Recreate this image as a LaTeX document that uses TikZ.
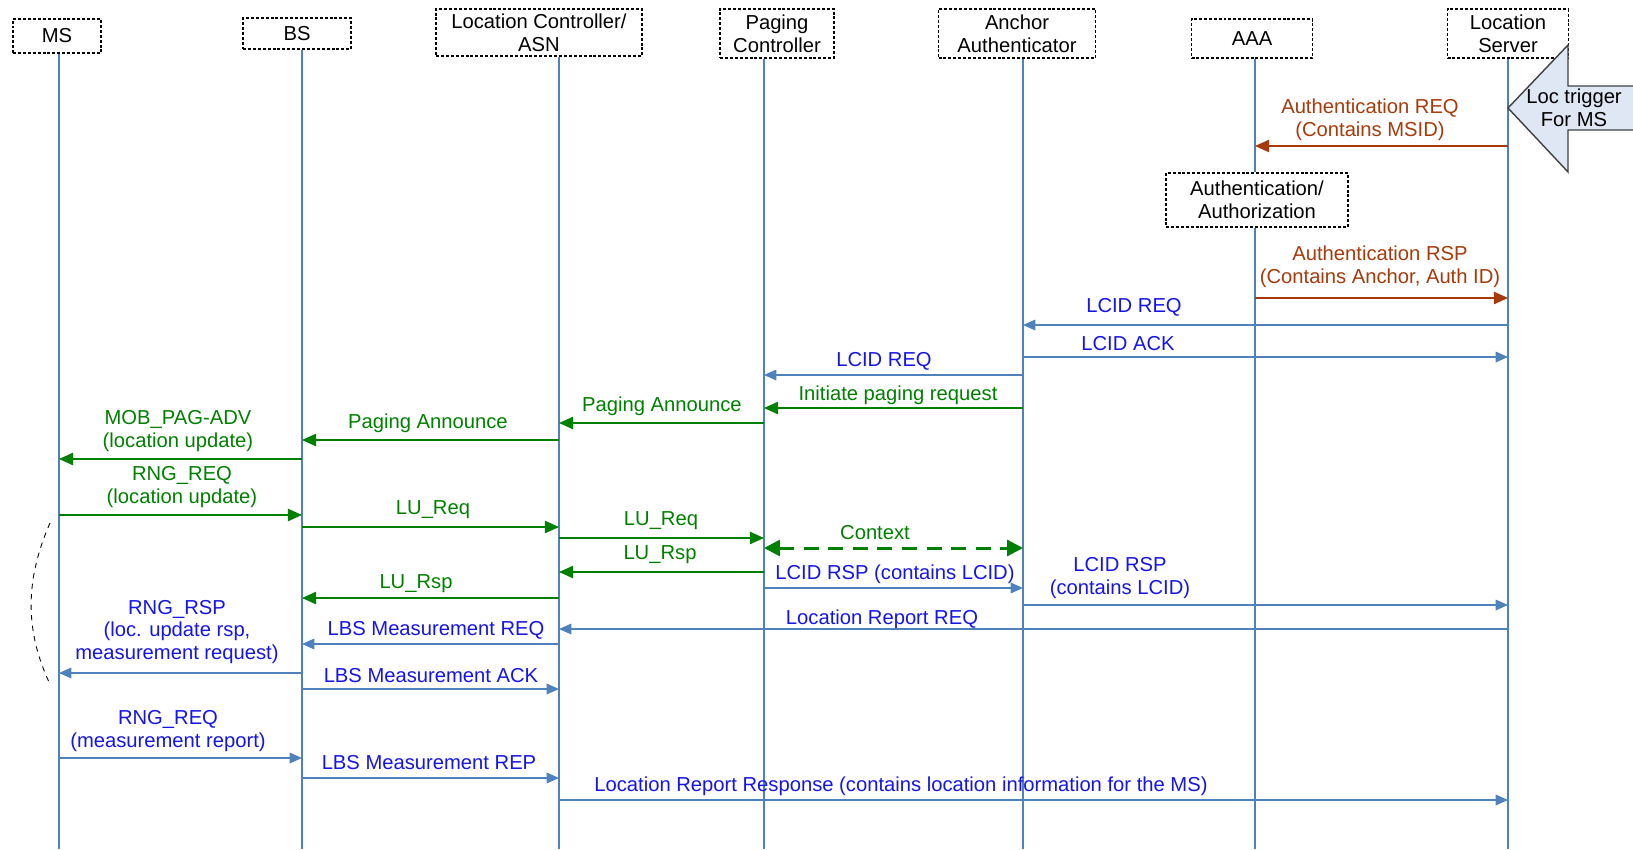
\documentclass[tikz,border=0pt]{standalone}
\usepackage{fontspec}
\setmainfont{Liberation Sans}
\usepackage{tikz}
\usetikzlibrary{arrows.meta}
\definecolor{lifeblue}{RGB}{79,129,189}
\definecolor{msgblue}{RGB}{20,20,235}
\definecolor{msggreen}{RGB}{0,128,0}
\definecolor{msgbrown}{RGB}{166,58,10}
\definecolor{trigfill}{RGB}{222,231,243}
\tikzstyle{entity} = [rectangle, draw=black, line width=1pt, dash pattern=on 1.7pt off 1.1pt, align=center, inner sep=0pt]
\tikzstyle{life} = [draw=lifeblue, line width=0.6pt]
\tikzstyle{msgtext} = [align=center, inner sep=0pt]
\tikzstyle{bluearrow} = [draw=lifeblue, line width=0.8pt, -{Triangle[length=7pt,width=6pt]}]
\tikzstyle{greenarrow} = [draw=msggreen, line width=0.8pt, -{Triangle[length=8pt,width=7pt]}]
\tikzstyle{brownarrow} = [draw=msgbrown, line width=0.8pt, -{Triangle[length=8pt,width=7pt]}]
\begin{document}
\begin{tikzpicture}[x=0.02cm, y=-0.02cm, font=\fontsize{11.5}{13}\selectfont]

    \useasboundingbox (0,0) rectangle (1633,849);

    % entities
    \node (ms) [entity, minimum width=1.76cm, minimum height=0.68cm] at (57,36) {MS};
    \node (bs) [entity, minimum width=2.16cm, minimum height=0.62cm] at (297,33.5) {BS};
    \node (lc) [entity, minimum width=4.12cm, minimum height=0.94cm] at (539,32.5) {Location Controller/\\ASN};
    \node (pc) [entity, minimum width=2.28cm, minimum height=0.98cm] at (777,33.5) {Paging\\Controller};
    \node (aa) [entity, minimum width=3.14cm, minimum height=0.98cm] at (1017,33.5) {Anchor\\Authenticator};
    \node (aaa) [entity, minimum width=2.42cm, minimum height=0.78cm] at (1252,38.5) {AAA};
    \node (ls) [entity, minimum width=2.42cm, minimum height=0.98cm] at (1508,33.5) {Location\\Server};
    \node (auth) [entity, minimum width=3.64cm, minimum height=1.08cm] at (1257,200) {Authentication/\\Authorization};

    % lifelines
    \coordinate (msl) at (59,849);
    \coordinate (bsl) at (302,849);
    \coordinate (lcl) at (559,849);
    \coordinate (pcl) at (764,849);
    \coordinate (aal) at (1023,849);
    \coordinate (aaal) at (1255,849);
    \coordinate (lsl) at (1508,849);
    \draw [life] (ms.south -| msl) -- (msl);
    \draw [life] (bs.south -| bsl) -- (bsl);
    \draw [life] (lc.south -| lcl) -- (lcl);
    \draw [life] (pc.south -| pcl) -- (pcl);
    \draw [life] (aa.south -| aal) -- (aal);
    \draw [life] (aaa.south -| aaal) -- (auth.north -| aaal);
    \draw [life] (auth.south -| aaal) -- (aaal);
    \draw [life] (ls.south -| lsl) -- (lsl);

    % loc trigger
    \fill [trigfill] (1508,108) -- (1568,45) -- (1568,86) -- (1633,86) -- (1633,130) -- (1568,130) -- (1568,172) -- cycle;
    \draw [black!75, line width=0.8pt] (1633,86) -- (1568,86) -- (1568,45) -- (1508,108) -- (1568,172) -- (1568,130) -- (1633,130);
    \node (trig) [msgtext] at (1574,107.5) {Loc trigger\\For MS};

    % messages
    \draw [brownarrow] (lsl |- 0,146) -- (aaal |- 0,146);
    \draw [brownarrow] (aaal |- 0,298) -- (lsl |- 0,298);
    \draw [bluearrow] (lsl |- 0,325) -- (aal |- 0,325);
    \draw [bluearrow] (aal |- 0,357) -- (lsl |- 0,357);
    \draw [bluearrow] (aal |- 0,375) -- (pcl |- 0,375);
    \draw [greenarrow] (aal |- 0,408) -- (pcl |- 0,408);
    \draw [greenarrow] (pcl |- 0,423) -- (lcl |- 0,423);
    \draw [greenarrow] (lcl |- 0,440) -- (bsl |- 0,440);
    \draw [greenarrow] (bsl |- 0,459) -- (msl |- 0,459);
    \draw [greenarrow] (msl |- 0,515) -- (bsl |- 0,515);
    \draw [greenarrow] (bsl |- 0,527) -- (lcl |- 0,527);
    \draw [greenarrow] (lcl |- 0,538) -- (pcl |- 0,538);
    \draw [draw=msggreen, line width=1.7pt, dash pattern=on 8.5pt off 5.5pt, {Triangle[length=9pt,width=9pt]}-{Triangle[length=9pt,width=9pt]}] (pcl |- 0,548) -- (aal |- 0,548);
    \draw [greenarrow] (pcl |- 0,572) -- (lcl |- 0,572);
    \draw [bluearrow] (pcl |- 0,588) -- (aal |- 0,588);
    \draw [greenarrow] (lcl |- 0,598) -- (bsl |- 0,598);
    \draw [bluearrow] (aal |- 0,605) -- (lsl |- 0,605);
    \draw [bluearrow] (lsl |- 0,629) -- (lcl |- 0,629);
    \draw [bluearrow] (lcl |- 0,644) -- (bsl |- 0,644);
    \draw [bluearrow] (bsl |- 0,673) -- (msl |- 0,673);
    \draw [bluearrow] (bsl |- 0,689) -- (lcl |- 0,689);
    \draw [bluearrow] (msl |- 0,758) -- (bsl |- 0,758);
    \draw [bluearrow] (bsl |- 0,778) -- (lcl |- 0,778);
    \draw [bluearrow] (lcl |- 0,800) -- (lsl |- 0,800);

    % labels
    \node (t1) [msgtext, text=msgbrown] at (1370,120) {Authentication REQ\\(Contains MSID)};
    \node (t2) [msgtext, text=msgbrown] at (1380,267) {Authentication RSP\\(Contains Anchor, Auth ID)};
    \node (t3) [msgtext, text=msgblue] at (1134,307) {LCID REQ};
    \node (t4) [msgtext, text=msgblue] at (1128,344) {LCID ACK};
    \node (t5) [msgtext, text=msgblue] at (884,361) {LCID REQ};
    \node (t6) [msgtext, text=msggreen] at (898,395) {Initiate paging request};
    \node (t7) [msgtext, text=msggreen] at (662,406) {Paging Announce};
    \node (t8) [msgtext, text=msggreen] at (428,423) {Paging Announce};
    \node (t9) [msgtext, text=msggreen] at (178,431) {MOB\_PAG-ADV\\(location update)};
    \node (t10) [msgtext, text=msggreen] at (182,487) {RNG\_REQ\\(location update)};
    \node (t11) [msgtext, text=msggreen] at (433,510) {LU\_Req};
    \node (t12) [msgtext, text=msggreen] at (661,521) {LU\_Req};
    \node (t13) [msgtext, text=msggreen] at (875,533) {Context};
    \node (t14) [msgtext, text=msggreen] at (660,555) {LU\_Rsp};
    \node (t15) [msgtext, text=msgblue] at (895,574) {LCID RSP (contains LCID)};
    \node (t16) [msgtext, text=msggreen] at (416,584) {LU\_Rsp};
    \node (t17) [msgtext, text=msgblue] at (1120,578) {LCID RSP\\(contains LCID)};
    \node (t18) [msgtext, text=msgblue] at (882,619) {Location Report REQ};
    \node (t19) [msgtext, text=msgblue] at (436,630) {LBS Measurement REQ};
    \node (t20) [msgtext, text=msgblue] at (177,632) {RNG\_RSP\\(loc. update rsp,\\measurement request)};
    \node (t21) [msgtext, text=msgblue] at (431,676) {LBS Measurement ACK};
    \node (t22) [msgtext, text=msgblue] at (168,731) {RNG\_REQ\\(measurement report)};
    \node (t23) [msgtext, text=msgblue] at (429,763) {LBS Measurement REP};
    \node (t24) [msgtext, text=msgblue] at (901,786) {Location Report Response (contains location information for the MS)};

    % bracket
    \draw [dashed, line width=0.5pt] (50,523) .. controls (25,580) and (25,630) .. (49,682);

\end{tikzpicture}
\end{document}
